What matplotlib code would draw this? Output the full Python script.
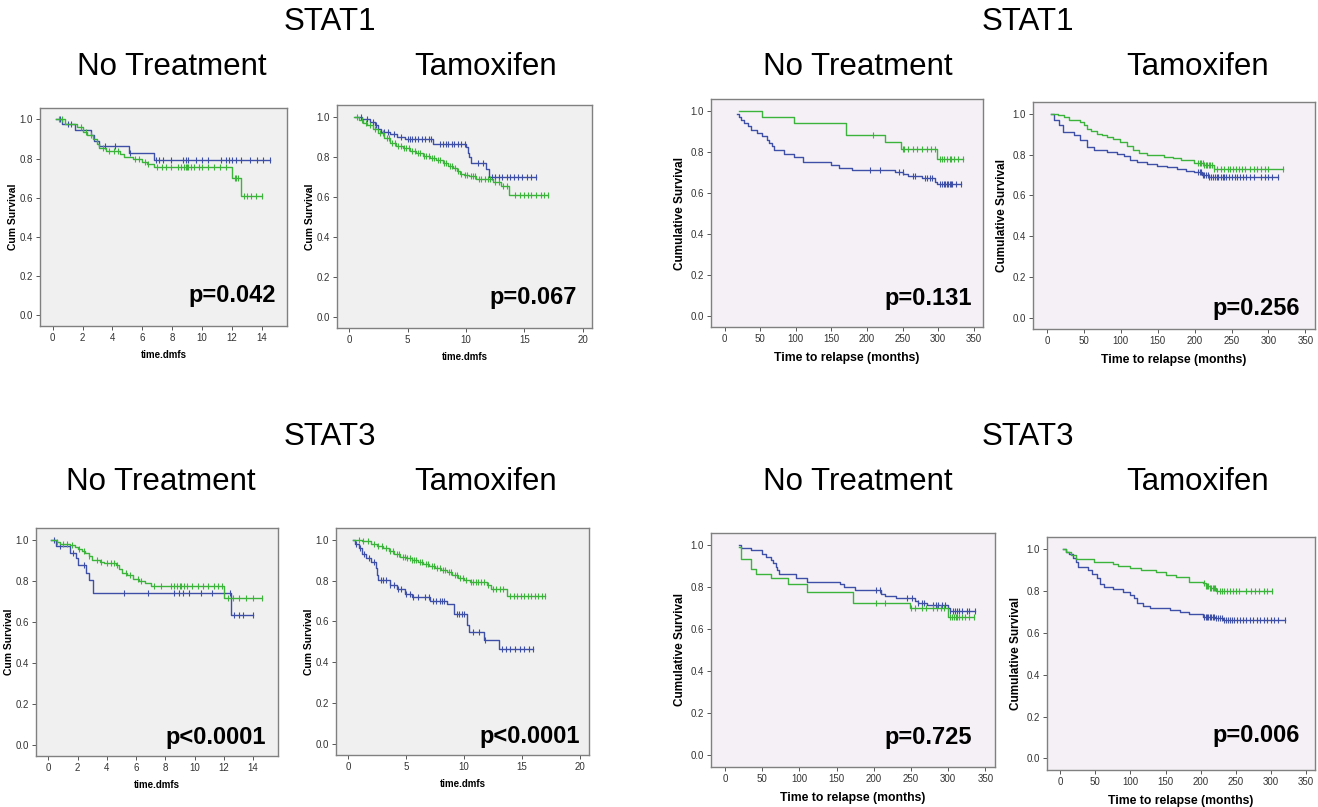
import numpy as np
import matplotlib
matplotlib.use("Agg")
import matplotlib.pyplot as plt

# ---- STAT1, distant metastasis free survival (time.dmfs) ----
s1_dmfs_nt_blue_t = [0.2, 0.6, 1.5, 2.55, 2.8, 3.1, 5.1, 6.8]
s1_dmfs_nt_blue_s = [1.0, 0.975, 0.948, 0.92, 0.89, 0.862, 0.83, 0.795]
s1_dmfs_nt_blue_c = [0.5, 1.0, 1.2, 3.5, 4.2, 5.2, 6.9, 7.1, 7.4, 7.9, 8.7, 8.9, 9.1, 9.6, 10.0, 10.4,
                     11.3, 11.6, 11.8, 12.0, 12.3, 12.6, 13.2, 13.7, 14.1, 14.55]
s1_dmfs_nt_green_t = [0.2, 0.8, 1.6, 2.0, 2.3, 2.7, 3.0, 3.1, 3.6, 4.5, 4.8, 5.4, 6.0, 6.3, 6.8, 12.0, 12.6]
s1_dmfs_nt_green_s = [1.0, 0.975, 0.96, 0.935, 0.92, 0.9, 0.875, 0.855, 0.84, 0.825, 0.81, 0.80, 0.78,
                      0.77, 0.755, 0.70, 0.61]
s1_dmfs_nt_green_c = [0.4, 0.6, 1.9, 2.2, 2.6, 3.4, 3.8, 4.1, 4.4, 5.5, 5.8, 6.2, 6.4, 7.0, 7.3, 7.6, 7.9,
                      8.4, 8.6, 8.8, 8.9, 9.0, 9.1, 9.3, 9.5, 9.8, 10.0, 10.4, 10.8, 11.2, 11.6, 12.2,
                      12.3, 12.4, 12.8, 13.0, 13.3, 13.6, 14.0]

s1_dmfs_tam_blue_t = [0.5, 1.05, 1.8, 2.2, 2.5, 2.75, 3.5, 4.05, 4.75, 7.2, 10.0, 10.2, 10.3, 10.45, 11.7, 12.0]
s1_dmfs_tam_blue_s = [1.0, 0.99, 0.975, 0.96, 0.94, 0.922, 0.915, 0.90, 0.89, 0.863, 0.85, 0.82, 0.80,
                      0.768, 0.74, 0.70]
s1_dmfs_tam_blue_c = [1.0, 1.5, 2.0, 2.3, 3.0, 3.3, 3.8, 4.4, 5.0, 5.2, 5.4, 5.6, 5.9, 6.2, 6.5, 6.8, 7.0,
                      7.8, 8.0, 8.3, 8.5, 8.8, 9.0, 9.3, 9.6, 9.9, 11.0, 11.5, 12.2, 12.5, 12.8, 13.1,
                      13.5, 13.8, 14.1, 14.5, 14.8, 15.2, 15.6, 16.0]
s1_dmfs_tam_green_t = [0.4, 0.8, 1.2, 1.5, 2.0, 2.5, 3.0, 3.5, 4.0, 4.6, 5.2, 5.75, 6.3, 6.9, 7.4, 8.0,
                       8.5, 8.9, 9.2, 9.45, 9.8, 10.3, 10.9, 12.3, 13.0, 13.7]
s1_dmfs_tam_green_s = [1.0, 0.985, 0.97, 0.96, 0.94, 0.917, 0.893, 0.868, 0.855, 0.843, 0.83, 0.818, 0.805,
                       0.793, 0.781, 0.769, 0.756, 0.744, 0.73, 0.714, 0.708, 0.702, 0.689, 0.674, 0.653, 0.61]
s1_dmfs_tam_green_c = [0.7, 1.1, 1.4, 1.8, 2.2, 2.6, 2.9, 3.2, 3.4, 3.7, 3.9, 4.2, 4.4, 4.7, 4.9, 5.1, 5.4,
                       5.6, 5.9, 6.1, 6.4, 6.6, 6.8, 7.1, 7.3, 7.6, 7.8, 8.1, 8.3, 8.6, 8.8, 9.1, 9.3,
                       9.6, 9.9, 10.1, 10.4, 10.6, 10.8, 11.1, 11.3, 11.6, 11.9, 12.1, 12.5, 12.8, 13.2,
                       13.5, 14.2, 14.6, 15.0, 15.3, 15.6, 16.0, 16.4, 16.7, 17.0]

# ---- STAT1, time to relapse (months) ----
s1_mo_nt_blue_t = [18, 20, 23, 28, 33, 37, 45, 52, 60, 63, 66, 70, 84, 97, 110, 149, 161, 179, 240, 251,
                   258, 277, 295, 299]
s1_mo_nt_blue_s = [0.985, 0.97, 0.955, 0.94, 0.925, 0.905, 0.89, 0.875, 0.86, 0.845, 0.83, 0.81, 0.79,
                   0.777, 0.752, 0.736, 0.723, 0.712, 0.704, 0.69, 0.68, 0.67, 0.655, 0.643]
s1_mo_nt_blue_c = [205, 218, 245, 250, 265, 268, 282, 285, 288, 292, 303, 305, 308, 310, 312, 314, 316,
                   318, 320, 325, 332]
s1_mo_nt_green_t = [20, 53, 97, 170, 225, 248, 298]
s1_mo_nt_green_s = [1.0, 0.97, 0.94, 0.88, 0.847, 0.814, 0.765]
s1_mo_nt_green_c = [208, 250, 252, 258, 265, 270, 278, 285, 290, 295, 302, 305, 308, 312, 316, 318, 322,
                    328, 335]

s1_mo_tam_blue_t = [5, 9, 16, 22, 36, 45, 54, 63, 81, 95, 104, 113, 122, 135, 149, 162, 176, 188, 199,
                    210, 220]
s1_mo_tam_blue_s = [1.0, 0.968, 0.944, 0.911, 0.895, 0.871, 0.839, 0.823, 0.815, 0.805, 0.794, 0.774,
                    0.763, 0.755, 0.745, 0.737, 0.729, 0.72, 0.713, 0.70, 0.69]
s1_mo_tam_blue_c = [205, 207, 209, 211, 213, 215, 218, 220, 222, 225, 228, 230, 232, 235, 238, 240, 243,
                    246, 250, 255, 258, 262, 265, 270, 275, 280, 290, 295, 300, 305, 313]
s1_mo_tam_green_t = [5, 15, 23, 30, 45, 50, 54, 60, 68, 75, 81, 90, 99, 108, 117, 125, 135, 158, 170,
                     181, 199, 212, 226]
s1_mo_tam_green_s = [1.0, 0.995, 0.984, 0.968, 0.96, 0.945, 0.927, 0.915, 0.903, 0.895, 0.887, 0.875,
                     0.863, 0.843, 0.823, 0.81, 0.798, 0.79, 0.782, 0.774, 0.761, 0.75, 0.73]
s1_mo_tam_green_c = [205, 207, 209, 211, 213, 215, 217, 219, 221, 223, 226, 230, 235, 240, 245, 248, 252,
                     256, 260, 264, 268, 275, 280, 285, 290, 295, 300, 320]

# ---- STAT3, distant metastasis free survival (time.dmfs) ----
s3_dmfs_nt_blue_t = [0.2, 0.5, 1.5, 1.9, 2.0, 2.6, 2.8, 3.05, 12.5]
s3_dmfs_nt_blue_s = [1.0, 0.97, 0.938, 0.91, 0.875, 0.837, 0.805, 0.74, 0.634]
s3_dmfs_nt_blue_c = [0.4, 0.8, 1.7, 2.4, 5.2, 6.8, 8.6, 8.9, 9.2, 9.6, 10.4, 11.2, 12.4, 12.7, 13.0, 13.3, 14.0]
s3_dmfs_nt_green_t = [0.2, 0.6, 0.8, 1.5, 1.8, 2.0, 2.3, 2.5, 2.8, 3.0, 3.5, 3.8, 4.6, 4.8, 5.0, 5.4, 5.8,
                      6.2, 6.6, 7.0, 12.0]
s3_dmfs_nt_green_s = [1.0, 0.99, 0.98, 0.975, 0.965, 0.955, 0.945, 0.935, 0.92, 0.90, 0.89, 0.885, 0.875,
                      0.86, 0.84, 0.83, 0.81, 0.80, 0.79, 0.775, 0.715]
s3_dmfs_nt_green_c = [0.6, 1.0, 1.3, 1.6, 2.1, 2.4, 2.8, 3.3, 3.6, 4.0, 4.3, 4.5, 4.7, 5.3, 5.6, 6.1, 6.3,
                      7.2, 7.7, 8.4, 8.6, 8.8, 9.0, 9.1, 9.3, 9.5, 9.8, 10.2, 10.6, 10.9, 11.3, 11.6,
                      11.9, 12.3, 12.6, 13.0, 13.5, 14.0, 14.6]

s3_dmfs_tam_blue_t = [0.4, 0.6, 0.9, 1.2, 1.5, 2.0, 2.4, 2.5, 2.6, 3.6, 4.2, 4.9, 5.5, 7.1, 8.5, 9.1,
                      10.25, 10.45, 11.7, 13.07]
s3_dmfs_tam_blue_s = [1.0, 0.98, 0.96, 0.93, 0.91, 0.89, 0.86, 0.83, 0.802, 0.78, 0.76, 0.735, 0.72, 0.70,
                      0.687, 0.635, 0.58, 0.547, 0.51, 0.465]
s3_dmfs_tam_blue_c = [0.7, 1.0, 1.4, 1.8, 2.2, 2.8, 3.0, 3.3, 3.6, 4.0, 4.3, 4.6, 5.0, 5.3, 5.6, 6.0, 6.6,
                      7.0, 7.3, 7.6, 7.9, 8.1, 8.3, 9.4, 9.6, 9.8, 10.0, 10.8, 11.3, 11.8, 13.3, 13.6,
                      14.0, 14.4, 14.8, 15.2, 15.6, 16.0]
s3_dmfs_tam_green_t = [0.4, 1.2, 2.0, 2.5, 3.0, 3.5, 4.0, 4.5, 5.0, 5.5, 6.0, 6.5, 7.0, 7.5, 8.0, 8.5,
                       9.0, 9.5, 10.0, 10.5, 12.0, 12.3, 13.7]
s3_dmfs_tam_green_s = [1.0, 0.995, 0.98, 0.97, 0.96, 0.945, 0.93, 0.918, 0.91, 0.9, 0.89, 0.88, 0.87,
                       0.86, 0.85, 0.84, 0.83, 0.815, 0.805, 0.795, 0.78, 0.76, 0.723]
s3_dmfs_tam_green_c = [0.9, 1.3, 1.7, 2.2, 2.6, 2.9, 3.3, 3.6, 3.9, 4.2, 4.4, 4.7, 4.9, 5.1, 5.3, 5.5,
                       5.7, 5.9, 6.2, 6.4, 6.7, 6.9, 7.2, 7.4, 7.7, 7.9, 8.2, 8.4, 8.7, 8.9, 9.2, 9.4,
                       9.7, 9.9, 10.2, 10.6, 10.8, 11.0, 11.2, 11.5, 11.7, 12.1, 12.5, 12.8, 13.1, 13.4,
                       14.0, 14.3, 14.6, 14.9, 15.2, 15.5, 15.8, 16.1, 16.4, 16.7, 17.0]

# ---- STAT3, time to relapse (months) ----
s3_mo_nt_blue_t = [19, 22, 35, 50, 55, 62, 65, 68, 70, 72, 95, 110, 155, 160, 175, 210, 215, 230, 255,
                   260, 272, 300, 302]
s3_mo_nt_blue_s = [1.0, 0.985, 0.975, 0.96, 0.944, 0.93, 0.913, 0.895, 0.88, 0.862, 0.843, 0.827, 0.814,
                   0.80, 0.786, 0.77, 0.76, 0.748, 0.735, 0.725, 0.715, 0.70, 0.687]
s3_mo_nt_blue_c = [203, 208, 245, 252, 260, 265, 268, 280, 283, 287, 292, 296, 303, 306, 309, 312, 315,
                   318, 325, 328, 336]
s3_mo_nt_green_t = [18, 21, 35, 42, 62, 85, 110, 172, 248, 300]
s3_mo_nt_green_s = [0.99, 0.933, 0.889, 0.862, 0.843, 0.817, 0.775, 0.727, 0.703, 0.659]
s3_mo_nt_green_c = [203, 215, 250, 255, 265, 270, 280, 285, 290, 295, 303, 305, 308, 310, 312, 315, 318,
                    322, 328, 335]

s3_mo_tam_blue_t = [4, 8, 12, 18, 22, 25, 40, 45, 52, 57, 62, 75, 90, 100, 105, 109, 118, 128, 156, 170,
                    184, 203, 220, 232]
s3_mo_tam_blue_s = [1.0, 0.985, 0.975, 0.96, 0.94, 0.916, 0.90, 0.88, 0.86, 0.835, 0.82, 0.81, 0.796,
                    0.78, 0.765, 0.745, 0.73, 0.717, 0.709, 0.70, 0.688, 0.677, 0.67, 0.661]
s3_mo_tam_blue_c = [205, 207, 209, 211, 213, 215, 217, 219, 222, 225, 228, 230, 233, 236, 239, 242, 245,
                    248, 252, 256, 260, 265, 270, 275, 280, 285, 290, 295, 300, 305, 310, 320]
s3_mo_tam_green_t = [4, 8, 15, 22, 48, 75, 82, 99, 115, 137, 150, 165, 184, 203, 207, 213, 222]
s3_mo_tam_green_s = [1.0, 0.985, 0.97, 0.955, 0.94, 0.93, 0.92, 0.91, 0.9, 0.89, 0.878, 0.866, 0.844,
                     0.836, 0.825, 0.815, 0.80]
s3_mo_tam_green_c = [205, 207, 209, 211, 213, 215, 217, 219, 221, 224, 227, 230, 234, 238, 242, 246, 250,
                     255, 265, 272, 278, 283, 290, 295, 302]

p_values = ["p=0.042", "p=0.067", "p=0.131", "p=0.256", "p<0.0001", "p<0.0001", "p=0.725", "p=0.006"]

BLUE = "#3d4fa6"
GREEN = "#3cb43c"
W, H = 1318, 807
NARROW = ["Liberation Sans Narrow", "Liberation Sans"]

plt.rcParams["font.family"] = ["Liberation Sans", "DejaVu Sans"]
fig = plt.figure(figsize=(W / 100, H / 100), dpi=100)
fig.patch.set_facecolor("white")


def km(ax, t, s, cens, color):
    t = np.asarray(t, float)
    s = np.asarray(s, float)
    end = max(max(cens), t[-1])
    ax.plot(np.append(t, end), np.append(s, s[-1]), drawstyle="steps-post", color=color, lw=1.0)
    idx = np.searchsorted(t, cens, side="right") - 1
    idx = np.clip(idx, 0, len(s) - 1)
    ax.plot(cens, s[idx], ls="none", marker="|", ms=4.5, mew=0.8, color=color)


def panel(box, kind, curves, pval, ptxt_pos):
    l, t, r, b = box
    ax = fig.add_axes([l / W, 1 - b / H, (r - l) / W, (b - t) / H])
    for (ct, cs, cc, col) in curves:
        km(ax, ct, cs, cc, col)
    ax.set_ylim(-0.055, 1.058)
    ax.set_yticks(np.arange(0, 1.01, 0.2))
    ax.set_yticklabels(["%.1f" % v for v in np.arange(0, 1.01, 0.2)])
    if kind in ("dmfs14", "dmfs20"):
        ax.set_facecolor("#f0f0f0")
        if kind == "dmfs14":
            ax.set_xlim(-0.85, 15.7)
            ax.set_xticks(range(0, 15, 2))
        else:
            ax.set_xlim(-1.05, 20.8)
            ax.set_xticks(range(0, 21, 5))
        ax.set_xlabel("time.dmfs", fontsize=7, fontweight="bold", family=NARROW, labelpad=5)
        ax.set_ylabel("Cum Survival", fontsize=7.5, fontweight="bold", labelpad=1)
    else:
        ax.set_facecolor("#f4f0f6")
        ax.set_xlim(-19, 363)
        ax.set_xticks(range(0, 351, 50))
        ax.set_xlabel("Time to relapse (months)", fontsize=8.8, fontweight="bold", labelpad=6)
        ax.set_ylabel("Cumulative Survival", fontsize=8.5, fontweight="bold", labelpad=3)
    ax.tick_params(direction="out", length=3, width=0.7, color="#555555", labelsize=7,
                   labelcolor="#333333", pad=2)
    for lab in ax.get_xticklabels() + ax.get_yticklabels():
        lab.set_family(NARROW)
    for sp in ax.spines.values():
        sp.set_color("#808080")
        sp.set_linewidth(1.0)
    ax.text(ptxt_pos[0], ptxt_pos[1], pval, transform=ax.transAxes, ha="right", va="center",
            fontsize=17, fontweight="bold", color="black")
    return ax


panel((40, 108, 287, 326), "dmfs14",
      [(s1_dmfs_nt_blue_t, s1_dmfs_nt_blue_s, s1_dmfs_nt_blue_c, BLUE),
       (s1_dmfs_nt_green_t, s1_dmfs_nt_green_s, s1_dmfs_nt_green_c, GREEN)],
      p_values[0], (0.955, 0.14))
panel((337, 105, 592, 328), "dmfs20",
      [(s1_dmfs_tam_blue_t, s1_dmfs_tam_blue_s, s1_dmfs_tam_blue_c, BLUE),
       (s1_dmfs_tam_green_t, s1_dmfs_tam_green_s, s1_dmfs_tam_green_c, GREEN)],
      p_values[1], (0.94, 0.135))
panel((711, 99, 983, 327), "months",
      [(s1_mo_nt_blue_t, s1_mo_nt_blue_s, s1_mo_nt_blue_c, BLUE),
       (s1_mo_nt_green_t, s1_mo_nt_green_s, s1_mo_nt_green_c, GREEN)],
      p_values[2], (0.96, 0.127))
panel((1033, 102, 1315, 329), "months",
      [(s1_mo_tam_blue_t, s1_mo_tam_blue_s, s1_mo_tam_blue_c, BLUE),
       (s1_mo_tam_green_t, s1_mo_tam_green_s, s1_mo_tam_green_c, GREEN)],
      p_values[3], (0.947, 0.09))
panel((36, 528, 278, 756), "dmfs14",
      [(s3_dmfs_nt_blue_t, s3_dmfs_nt_blue_s, s3_dmfs_nt_blue_c, BLUE),
       (s3_dmfs_nt_green_t, s3_dmfs_nt_green_s, s3_dmfs_nt_green_c, GREEN)],
      p_values[4], (0.95, 0.08))
panel((336, 528, 589, 755), "dmfs20",
      [(s3_dmfs_tam_blue_t, s3_dmfs_tam_blue_s, s3_dmfs_tam_blue_c, BLUE),
       (s3_dmfs_tam_green_t, s3_dmfs_tam_green_s, s3_dmfs_tam_green_c, GREEN)],
      p_values[5], (0.964, 0.08))
panel((711, 533, 995, 767), "months",
      [(s3_mo_nt_blue_t, s3_mo_nt_blue_s, s3_mo_nt_blue_c, BLUE),
       (s3_mo_nt_green_t, s3_mo_nt_green_s, s3_mo_nt_green_c, GREEN)],
      p_values[6], (0.919, 0.124))
panel((1047, 537, 1315, 770), "months",
      [(s3_mo_tam_blue_t, s3_mo_tam_blue_s, s3_mo_tam_blue_c, BLUE),
       (s3_mo_tam_green_t, s3_mo_tam_green_s, s3_mo_tam_green_c, GREEN)],
      p_values[7], (0.944, 0.15))


# headings
def head(x, y, txt):
    fig.text(x / W, 1 - y / H, txt, ha="center", va="center", fontsize=22.5, color="black")


head(330, 22, "STAT1")
head(1028, 22, "STAT1")
head(172, 67, "No Treatment")
head(486, 67, "Tamoxifen")
head(858, 67, "No Treatment")
head(1198, 67, "Tamoxifen")
head(330, 437, "STAT3")
head(1028, 437, "STAT3")
head(161, 482, "No Treatment")
head(486, 482, "Tamoxifen")
head(858, 482, "No Treatment")
head(1198, 482, "Tamoxifen")

fig.savefig("out.png", dpi=100)
